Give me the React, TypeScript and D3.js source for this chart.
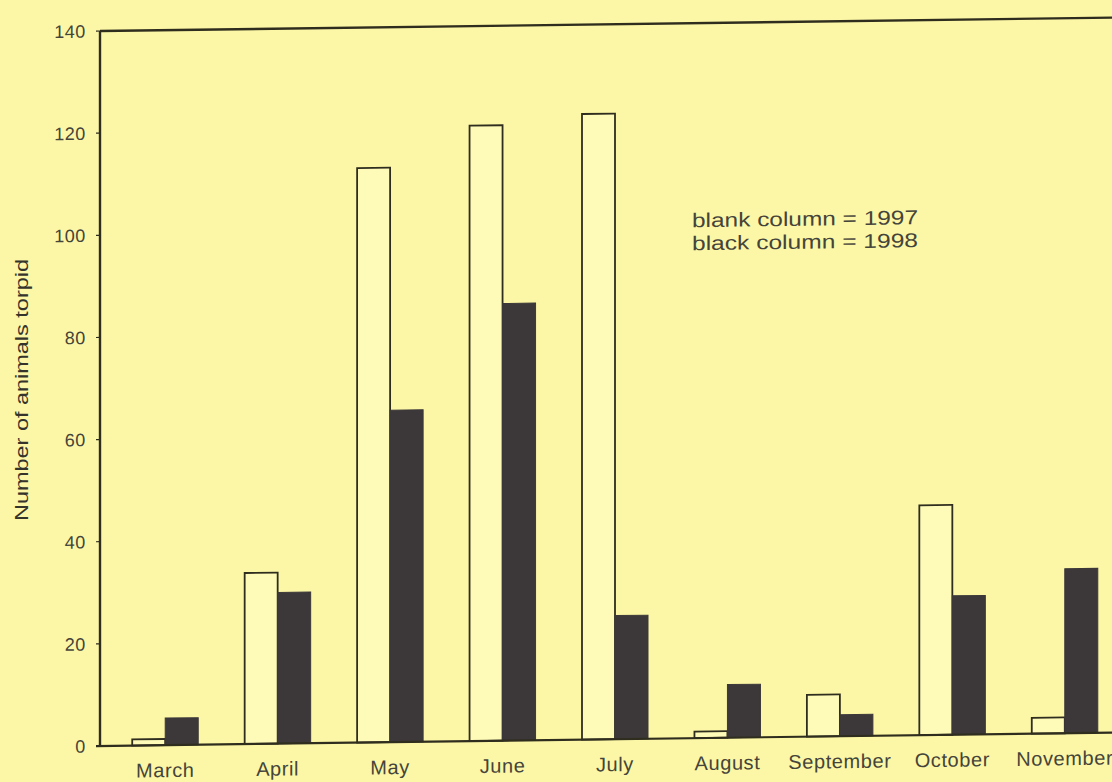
import React from "react";
import * as d3 from "d3";

const months = ["March", "April", "May", "June", "July", "August", "September", "October", "November"];
const series = ["1997", "1998"];
const values1997 = [1.2, 33.5, 112.5, 120.5, 122.5, 1.3, 8.2, 45, 3.1];
const values1998 = [5.3, 29.6, 65, 85.6, 24.2, 10.4, 4.2, 27.2, 32.2];
const yTicks = [0, 20, 40, 60, 80, 100, 120, 140];
const legendLines = ["blank column = 1997", "black column = 1998"];
const yTitle = "Number of animals torpid";

const W = 1112;
const H = 782;
const BG = "#fcf7a6";
const INK = "#2f2d1e";
const DARK = "#3c383a";
const TEXT = "#45443a";
const FONT = "'Liberation Sans', Arial, Helvetica, sans-serif";

export default function App() {
  const axisX = 100;
  const y = d3.scaleLinear().domain([0, 140]).range([746, 31]);
  const x = d3.scaleBand<string>().domain(months).range([109, 1121]).padding(0);
  const inner = d3.scaleBand<string>().domain(series).range([-33, 33]).padding(0);
  const data = months.map((m, i) => ({ m, v: [values1997[i], values1998[i]] }));
  const slope = -0.0132;

  return (
    <svg
      width={W}
      height={H}
      style={{ position: "fixed", left: 0, top: 0, background: BG }}
      xmlns="http://www.w3.org/2000/svg"
    >
      <rect x={0} y={0} width={W} height={H} fill={BG} />
      <g transform={`matrix(1, ${slope}, 0, 1, 0, ${-slope * axisX})`}>
        {/* bars */}
        {data.map((d) => {
          const cx = (x(d.m) as number) + x.bandwidth() / 2;
          return (
            <g key={d.m}>
              {series.map((s, j) => {
                const bx = cx + (inner(s) as number);
                const top = y(d.v[j]);
                return (
                  <rect
                    key={s}
                    x={bx}
                    y={top}
                    width={inner.bandwidth()}
                    height={y(0) - top}
                    fill={j === 0 ? "#fefbb8" : DARK}
                    stroke={j === 0 ? INK : DARK}
                    strokeWidth={j === 0 ? 1.8 : 1}
                  />
                );
              })}
            </g>
          );
        })}
        {/* frame */}
        <line x1={axisX} x2={axisX} y1={y(140)} y2={y(0)} stroke={INK} strokeWidth={2.4} />
        <line x1={axisX} x2={W + 30} y1={y(140)} y2={y(140)} stroke={INK} strokeWidth={2.4} />
        <line x1={axisX - 4} x2={W + 30} y1={y(0)} y2={y(0)} stroke={INK} strokeWidth={2.2} />
        {/* y ticks */}
        {yTicks.map((t) => (
          <g key={t}>
            <line x1={axisX - 4} x2={axisX} y1={y(t)} y2={y(t)} stroke={INK} strokeWidth={1.2} />
            <text
              x={axisX - 14}
              y={y(t)}
              dy="0.36em"
              textAnchor="end"
              fontFamily={FONT}
              fontSize={18}
              letterSpacing={0.6}
              fill={TEXT}
            >
              {t}
            </text>
          </g>
        ))}
        {/* month labels */}
        {months.map((m) => (
          <text
            key={m}
            x={(x(m) as number) + x.bandwidth() / 2}
            y={778}
            textAnchor="middle"
            fontFamily={FONT}
            fontSize={20}
            letterSpacing={0.6}
            fill={TEXT}
          >
            {m}
          </text>
        ))}
        {/* legend */}
        {legendLines.map((l, i) => (
          <text
            key={l}
            x={692}
            y={235 + i * 23}
            fontFamily={FONT}
            fontSize={20}
            textLength={226}
            lengthAdjust="spacingAndGlyphs"
            fill={TEXT}
          >
            {l}
          </text>
        ))}
      </g>
      {/* y title */}
      <text
        transform={`translate(28, 390) rotate(-90)`}
        textAnchor="middle"
        fontFamily={FONT}
        fontSize={19}
        textLength={262}
        lengthAdjust="spacingAndGlyphs"
        fill="#35342c"
      >
        {yTitle}
      </text>
    </svg>
  );
}
